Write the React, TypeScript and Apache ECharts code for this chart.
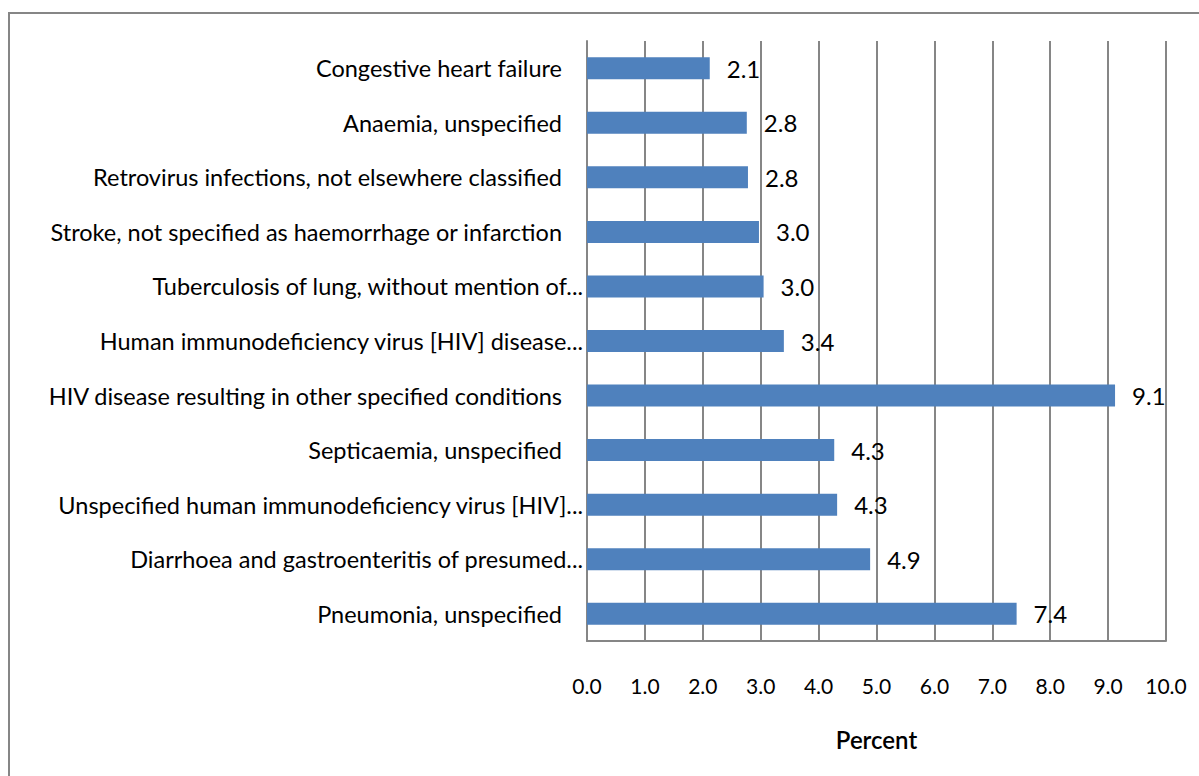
import React, { useEffect, useRef } from "react";
import * as echarts from "echarts";

const categories = [
  "Pneumonia, unspecified",
  "Diarrhoea and gastroenteritis of presumed...",
  "Unspecified human immunodeficiency virus [HIV]...",
  "Septicaemia, unspecified",
  "HIV disease resulting in other specified conditions",
  "Human immunodeficiency virus [HIV] disease...",
  "Tuberculosis of lung, without mention of...",
  "Stroke, not specified as haemorrhage or infarction",
  "Retrovirus infections, not elsewhere classified",
  "Anaemia, unspecified",
  "Congestive heart failure",
];
const values = [7.42, 4.89, 4.32, 4.27, 9.12, 3.4, 3.05, 2.97, 2.78, 2.76, 2.12];
const xMin = 0;
const xMax = 10;
const xInterval = 1;
const xTitle = "Percent";

const FONT = "Lato, 'Open Sans', sans-serif";

export default function App() {
  const ref = useRef<HTMLDivElement>(null);
  useEffect(() => {
    if (!ref.current) return;
    const chart = echarts.init(ref.current, undefined, { renderer: "svg" });
    chart.setOption({
      animation: false,
      backgroundColor: "#ffffff",
      graphic: [
        {
          type: "polyline",
          shape: { points: [[9, 776], [9, 13], [1199, 13]] },
          style: { stroke: "#868686", lineWidth: 2, fill: "none" },
          silent: true,
        },
      ],
      grid: { left: 587, right: 33, top: 41, bottom: 135 },
      xAxis: {
        type: "value",
        min: xMin,
        max: xMax,
        interval: xInterval,
        name: xTitle,
        nameLocation: "middle",
        nameGap: 86,
        nameTextStyle: { fontFamily: FONT, fontSize: 24, fontWeight: 600, color: "#000" },
        axisLine: { show: true, lineStyle: { color: "#868686", width: 2 } },
        axisTick: { show: false },
        axisLabel: {
          fontFamily: FONT,
          fontSize: 21,
          color: "#000",
          margin: 34,
          formatter: (v: number) => v.toFixed(1),
        },
        splitLine: { show: true, lineStyle: { color: "#868686", width: 2 } },
      },
      yAxis: {
        type: "category",
        data: categories,
        axisLine: { show: true, lineStyle: { color: "#868686", width: 2 } },
        axisTick: { show: false },
        axisLabel: {
          fontFamily: FONT,
          fontSize: 23.5,
          color: "#000",
          margin: 4,
          formatter: (v: string) => (v.endsWith("...") ? `{b|${v}}` : `{a|${v}}`),
          rich: {
            a: { fontFamily: FONT, fontSize: 23.5, color: "#000", padding: [0, 21, 0, 0] },
            b: { fontFamily: FONT, fontSize: 23.5, color: "#000" },
          },
        },
      },
      series: [
        {
          type: "bar",
          data: values,
          barWidth: 22,
          itemStyle: { color: "#4F81BD" },
          label: {
            show: true,
            position: "right",
            distance: 17,
            fontFamily: FONT,
            fontSize: 24,
            color: "#000",
            formatter: (p: any) => Number(p.value).toFixed(1),
          },
        },
      ],
    });
    return () => chart.dispose();
  }, []);
  return (
    <div
      ref={ref}
      style={{ position: "absolute", left: 0, top: 0, width: 1199, height: 776 }}
    />
  );
}
